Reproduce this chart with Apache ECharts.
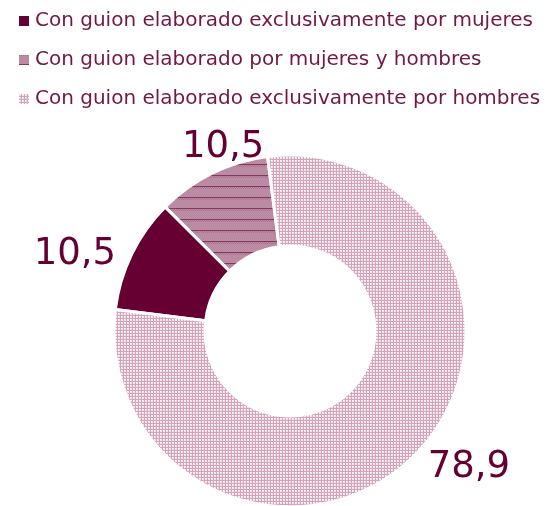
<!DOCTYPE html>
<html>
<head>
<meta charset="utf-8">
<script src="https://cdn.jsdelivr.net/npm/echarts@6/dist/echarts.min.js"></script>
<style>body{margin:0;background:#fff}#c{width:547px;height:506px}</style>
</head>
<body>
<div id="c"></div>
<script>
// datos
const categories = [
  "Con guion elaborado exclusivamente por mujeres",
  "Con guion elaborado por mujeres y hombres",
  "Con guion elaborado exclusivamente por hombres"
];
const values = [10.5, 10.5, 78.9];

// patrones de relleno
function tile(w, h, draw) {
  const cv = document.createElement("canvas");
  cv.width = w; cv.height = h;
  draw(cv.getContext("2d"));
  return cv;
}
const stripes = tile(2, 11, (g) => {
  g.fillStyle = "#bb8aa3"; g.fillRect(0, 0, 2, 11);
  g.fillStyle = "#ab7390"; g.fillRect(0, 0, 1, 1); g.fillRect(1, 1, 1, 1);
  g.fillStyle = "#83395f"; g.fillRect(0, 10, 2, 1);
});
const dots = tile(3, 3, (g) => {
  g.fillStyle = "#f3e4eb"; g.fillRect(0, 0, 3, 3);
  g.fillStyle = "#d6a3bc"; g.fillRect(0, 0, 3, 1); g.fillRect(0, 0, 1, 3);
  g.fillStyle = "#ffffff"; g.fillRect(1, 1, 1, 1);
});
const fills = [
  "#660033",
  { image: stripes, repeat: "repeat" },
  { image: dots, repeat: "repeat" }
];
const labelShift = [[-3, 2], [63, -22], [1, 9]];

const chart = echarts.init(document.getElementById("c"));
chart.setOption({
  animation: false,
  legend: {
    orient: "vertical",
    left: 12,
    top: 6,
    itemWidth: 12,
    itemHeight: 12,
    itemGap: 19,
    icon: "rect",
    textStyle: { color: "#731846", fontSize: 20, fontFamily: "DejaVu Sans" },
    data: categories
  },
  series: [{
    type: "pie",
    center: [290, 331],
    radius: [85, 176],
    startAngle: 173,
    clockwise: true,
    data: categories.map((n, i) => ({
      name: n,
      value: values[i],
      itemStyle: { color: fills[i] }
    })),
    itemStyle: { borderColor: "#fff", borderWidth: 3 },
    label: {
      show: true,
      position: "outside",
      formatter: (p) => String(p.value).replace(".", ","),
      color: "#660033",
      fontSize: 37,
      fontFamily: "DejaVu Sans"
    },
    labelLine: { show: false, length: 4, length2: 4 },
    labelLayout: (p) => ({ dx: labelShift[p.dataIndex][0], dy: labelShift[p.dataIndex][1] }),
    emphasis: { disabled: true }
  }]
});
</script>
</body>
</html>
